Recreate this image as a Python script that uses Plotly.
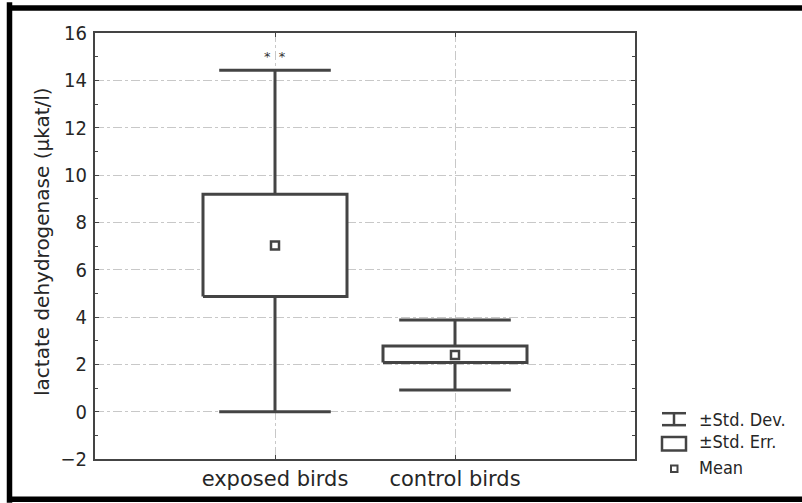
import plotly.graph_objects as go

# Lactate dehydrogenase activity: mean, ±standard error and ±standard deviation
categories = ["exposed birds", "control birds"]
means = [7.02, 2.39]
se_low = [4.87, 2.08]
se_high = [9.19, 2.77]
sd_low = [0.0, 0.92]
sd_high = [14.43, 3.87]
y_ticks = [-2, 0, 2, 4, 6, 8, 10, 12, 14, 16]
legend_labels = ["±Std. Dev.", "±Std. Err.", "Mean"]

INK = "#444444"
TXT = "#262626"
FONT = "DejaVu Sans"
FONT_C = "DejaVu Sans Condensed, DejaVu Sans"
BOX_HALF = 0.4
CAP_HALF = 0.31

W, H = 802, 503
ML, MR, MT, MB = 95, 167, 33, 42
PW, PH = W - ML - MR, H - MT - MB


def px_x(px):
    return (px - ML) / PW


def px_y(py):
    return (H - MB - py) / PH


pos = list(range(len(categories)))

# whiskers (vertical stems + caps)
wx, wy = [], []
for i in pos:
    wx += [i, i, None, i, i, None]
    wy += [se_high[i], sd_high[i], None, se_low[i], sd_low[i], None]
    wx += [i - CAP_HALF, i + CAP_HALF, None, i - CAP_HALF, i + CAP_HALF, None]
    wy += [sd_high[i], sd_high[i], None, sd_low[i], sd_low[i], None]

fig = go.Figure()
fig.add_trace(go.Scatter(x=wx, y=wy, mode="lines",
                         line=dict(color=INK, width=3), hoverinfo="skip"))

# standard-error boxes
for i in pos:
    fig.add_trace(go.Scatter(
        x=[i - BOX_HALF, i + BOX_HALF, i + BOX_HALF, i - BOX_HALF, i - BOX_HALF],
        y=[se_low[i], se_low[i], se_high[i], se_high[i], se_low[i]],
        mode="lines", fill="toself", fillcolor="white",
        line=dict(color=INK, width=3), hoverinfo="skip"))

# means
fig.add_trace(go.Scatter(x=pos, y=means, mode="markers",
                         marker=dict(symbol="square-open", size=8, color=INK,
                                     line=dict(width=2.5, color=INK))))

# significance mark above the exposed group
fig.add_annotation(x=pos[0], y=15.0, text="*&nbsp;&nbsp;*", showarrow=False,
                   font=dict(family=FONT, size=13, color="#333333"),
                   yanchor="middle")

# y-axis title
fig.add_annotation(xref="paper", yref="paper", x=px_x(42), y=px_y(243),
                   text="lactate dehydrogenase (µkat/l)", textangle=-90,
                   showarrow=False, xanchor="center", yanchor="middle",
                   font=dict(family=FONT, size=20, color=TXT))

shapes = []
# legend key glyphs
lx0, lx1, lxc = px_x(662), px_x(686), px_x(674)
line_k = dict(color=INK, width=2.5)
shapes += [
    dict(type="line", xref="paper", yref="paper", x0=lx0, x1=lx1,
         y0=px_y(415), y1=px_y(415), line=line_k),
    dict(type="line", xref="paper", yref="paper", x0=lx0, x1=lx1,
         y0=px_y(427), y1=px_y(427), line=line_k),
    dict(type="line", xref="paper", yref="paper", x0=lxc, x1=lxc,
         y0=px_y(415), y1=px_y(427), line=line_k),
    dict(type="rect", xref="paper", yref="paper", x0=lx0, x1=lx1,
         y0=px_y(452.5), y1=px_y(439), line=line_k, fillcolor="white"),
    dict(type="rect", xref="paper", yref="paper", x0=px_x(671), x1=px_x(677.5),
         y0=px_y(474), y1=px_y(467.5), line=dict(color=INK, width=2)),
]
for txt, yc in zip(legend_labels, [421.5, 443, 470]):
    fig.add_annotation(xref="paper", yref="paper", x=px_x(697), y=px_y(yc),
                       text=txt, showarrow=False, xanchor="left", yanchor="middle",
                       font=dict(family=FONT_C, size=18, color=TXT))

# outer frame (left, top, bottom edges)
frame = dict(color="black", width=5.5)
shapes += [
    dict(type="line", xref="paper", yref="paper", x0=px_x(9.5), x1=px_x(9.5),
         y0=px_y(2), y1=px_y(505), line=frame),
    dict(type="line", xref="paper", yref="paper", x0=px_x(7), x1=px_x(810),
         y0=px_y(8), y1=px_y(8), line=frame),
    dict(type="line", xref="paper", yref="paper", x0=px_x(7), x1=px_x(810),
         y0=px_y(501.5), y1=px_y(501.5), line=frame),
]

grid = dict(showgrid=True, gridcolor="#c8c8c8", gridwidth=1, griddash="dashdot")

fig.update_layout(
    width=W, height=H, margin=dict(l=ML, r=MR, t=MT, b=MB),
    paper_bgcolor="white", plot_bgcolor="white", showlegend=False,
    shapes=shapes,
    font=dict(family=FONT, color=TXT),
    xaxis=dict(range=[-1, 2], tickvals=pos, ticktext=categories,
               ticks="inside", ticklen=4, tickcolor=INK,
               showline=True, linecolor=INK, linewidth=2, mirror="ticks",
               zeroline=False, tickfont=dict(family=FONT, size=21, color=TXT),
               **grid),
    yaxis=dict(range=[-2, 16], tickvals=y_ticks,
               ticks="inside", ticklen=4, tickcolor=INK,
               minor=dict(ticks="inside", ticklen=3, tickcolor=INK, dtick=1,
                          showgrid=False),
               showline=True, linecolor=INK, linewidth=2, mirror="ticks",
               zeroline=False, ticklabelstandoff=2,
               tickfont=dict(family=FONT_C, size=20, color=TXT),
               **grid),
)

fig.write_html("out.html")
